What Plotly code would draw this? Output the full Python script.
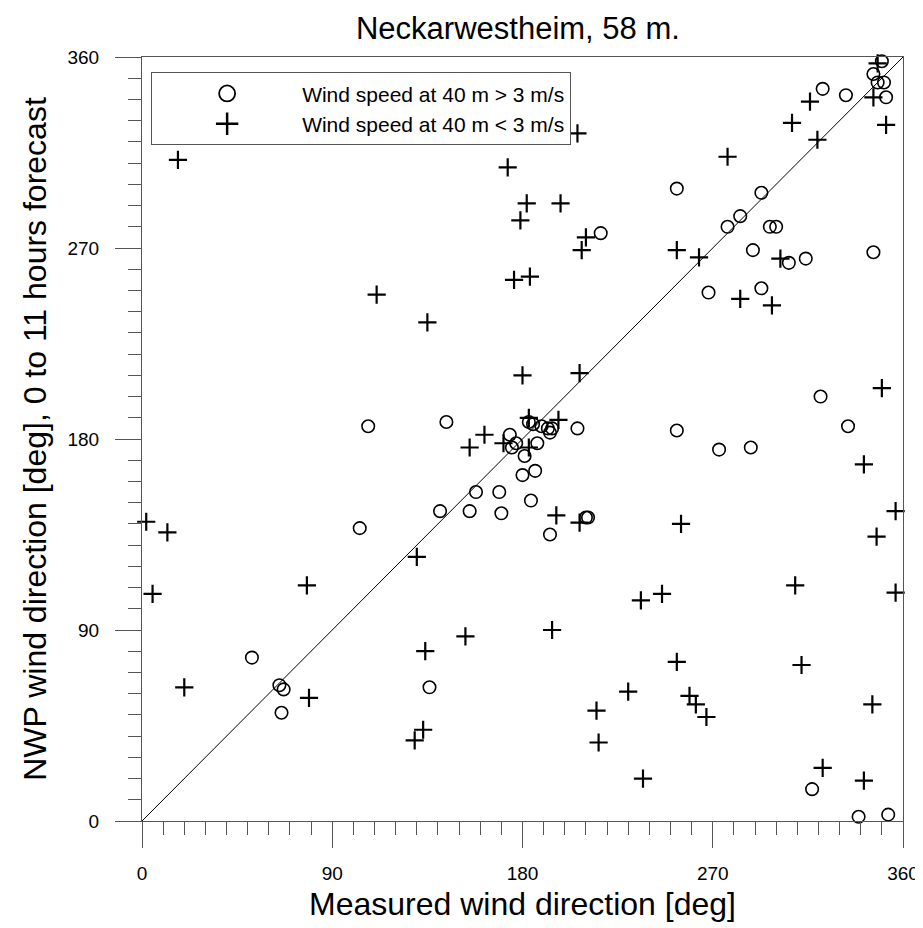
import plotly.graph_objects as go

# Wind speed at 40 m > 3 m/s (circles)
strong_measured = [350, 346, 348, 351, 352, 322, 333, 253, 293, 283, 277, 297, 300, 289, 306, 314,
                   346, 268, 293, 217, 107, 144, 174, 175, 177, 183, 185, 189, 192, 193, 194, 206,
                   187, 181, 186, 180, 158, 169, 141, 155, 170, 184, 193, 210, 211, 103, 253, 273,
                   288, 321, 334, 52, 65, 67, 66, 136, 317, 339, 353]
strong_nwp = [358, 352, 348, 348, 341, 345, 342, 298, 296, 285, 280, 280, 280, 269, 263, 265,
              268, 249, 251, 277, 186, 188, 182, 176, 178, 188, 187, 186, 185, 183, 185, 185,
              178, 172, 165, 163, 155, 155, 146, 146, 145, 151, 135, 143, 143, 138, 184, 175,
              176, 200, 186, 77, 64, 62, 51, 63, 15, 2, 3]

# Wind speed at 40 m < 3 m/s (plus signs)
weak_measured = [17, 173, 176, 111, 206, 182, 198, 179, 210, 208, 183.5, 277, 307.5, 316, 319.5,
                 348, 346, 352, 253, 263.5, 302, 283, 298, 135, 180, 207, 162, 155, 171, 183, 197,
                 183, 350, 341.5, 356.5, 347.5, 2, 12, 130, 196, 207, 255, 5, 78, 153, 134, 20,
                 79, 133, 129, 309, 356.5, 236, 246, 194, 253, 312, 230, 259, 262, 267, 215,
                 345.5, 216, 237, 322, 341.5]
weak_nwp = [311.5, 308, 255, 248, 324, 291, 291, 283, 275, 269, 256.5, 313, 329, 339, 321,
            357, 341, 328, 269, 265.6, 265, 246, 243, 235, 210, 211, 182, 176, 178, 190, 189,
            176, 204, 168, 146, 134, 141, 136, 124.5, 144, 140.6, 140, 107, 111, 87, 80, 63,
            58, 43, 38, 111, 107.6, 104, 107, 90, 75, 73.5, 61, 59, 55, 49, 52,
            55, 37, 20, 25, 19]

diag = [0, 360]
tick_vals = [0, 90, 180, 270, 360]
tick_text = ["0", "90", "180", "270", "360"]

FONT = "Arial, Liberation Sans, Helvetica, sans-serif"
AXIS_COL = "#555555"

# the page body adds an 8 px margin on the top/left
W, H = 915, 920

fig = go.Figure()

fig.add_trace(go.Scatter(x=diag, y=diag, mode="lines",
                         line=dict(color="black", width=1), showlegend=False,
                         hoverinfo="skip"))

fig.add_trace(go.Scatter(x=strong_measured, y=strong_nwp, mode="markers",
                         marker=dict(symbol="circle-open", size=12.5, color="black",
                                     line=dict(width=1.6, color="black")),
                         showlegend=False, cliponaxis=False))

fig.add_trace(go.Scatter(x=weak_measured, y=weak_nwp, mode="markers",
                         marker=dict(symbol="cross-thin", size=13, color="black",
                                     line=dict(width=2.2, color="black")),
                         showlegend=False, cliponaxis=False))

# legend entries
fig.add_trace(go.Scatter(x=[None], y=[None], mode="markers",
                         name="Wind speed at 40 m > 3 m/s",
                         marker=dict(symbol="circle-open", size=16, color="black",
                                     line=dict(width=1.8, color="black"))))
fig.add_trace(go.Scatter(x=[None], y=[None], mode="markers",
                         name="Wind speed at 40 m < 3 m/s",
                         marker=dict(symbol="cross-thin", size=16, color="black",
                                     line=dict(width=2.5, color="black"))))

axis_common = dict(
    range=[0, 360], showgrid=False, zeroline=False,
    showline=True, linecolor=AXIS_COL, linewidth=1, mirror=True,
    ticks="outside", ticklen=26, tickwidth=1, tickcolor=AXIS_COL,
    tickvals=tick_vals, ticktext=tick_text,
    tickfont=dict(family=FONT, size=19, color="black"),
    ticklabeloverflow="allow",
    minor=dict(dtick=10, tick0=0, ticks="outside", ticklen=13, tickwidth=1, tickcolor=AXIS_COL),
    automargin=False,
)

fig.update_xaxes(**axis_common, ticklabelstandoff=9,
                 title=dict(text="Measured wind direction [deg]",
                            font=dict(family=FONT, size=32, color="black"), standoff=9))
fig.update_yaxes(**axis_common, ticklabelstandoff=12,
                 title=dict(text="NWP wind direction [deg], 0 to 11 hours forecast",
                            font=dict(family=FONT, size=32, color="black"), standoff=11))

fig.update_layout(
    width=W, height=H,
    margin=dict(l=134, r=20, t=49, b=107),
    paper_bgcolor="white", plot_bgcolor="white",
    title=dict(text="Neckarwestheim, 58 m.", x=0.494, xref="paper",
               y=1 - 20 / H, yref="container", yanchor="middle",
               font=dict(family=FONT, size=31, color="black")),
    legend=dict(x=0.012, y=0.98, xanchor="left", yanchor="top",
                bgcolor="white", bordercolor=AXIS_COL, borderwidth=1,
                font=dict(family=FONT, size=21, color="black"),
                itemwidth=140, tracegroupgap=0),
    showlegend=True,
)

fig.write_html("out.html")
